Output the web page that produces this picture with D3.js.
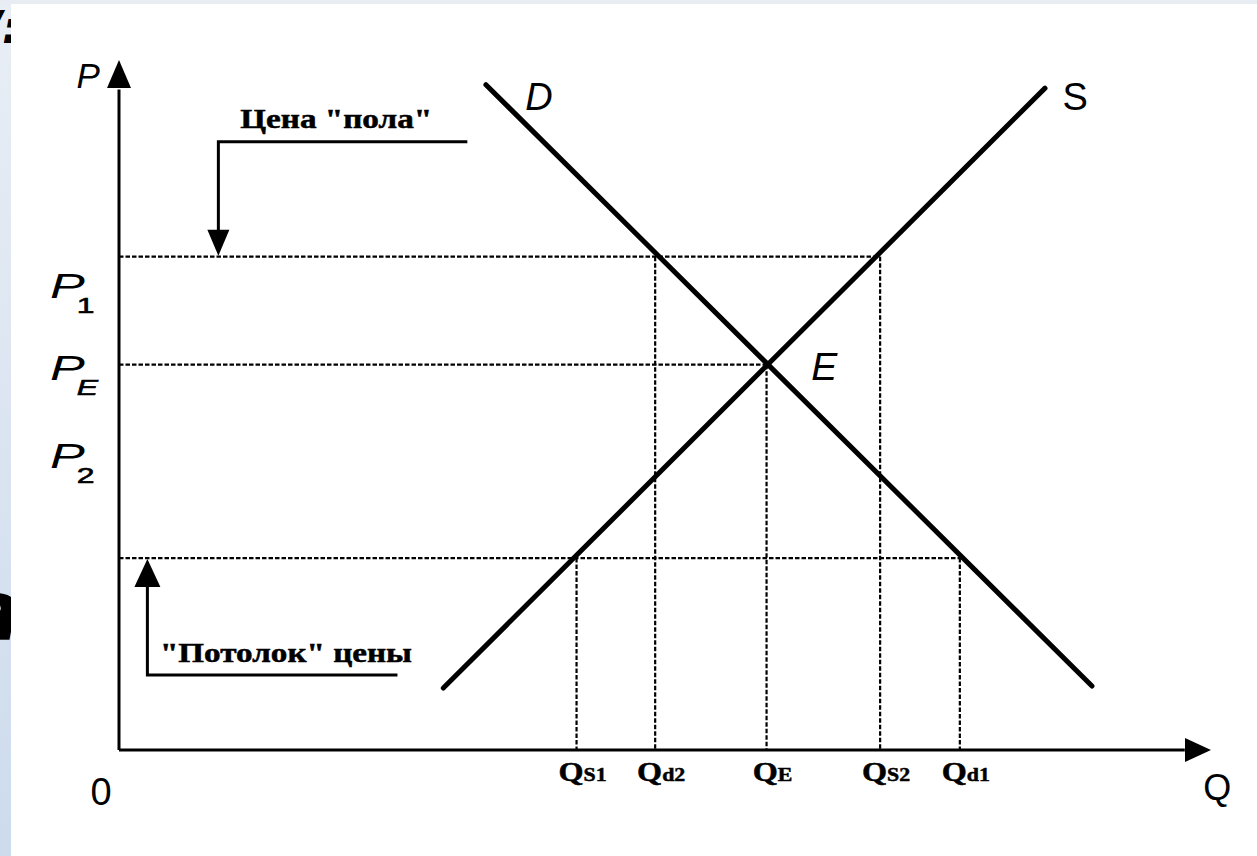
<!DOCTYPE html>
<html>
<head>
  <meta charset="utf-8">
  <script src="https://d3js.org/d3.v7.min.js"></script>
  <style>
    body { margin: 0; background: #fff; }
    svg { display: block; }
    .sans { font-family: "Liberation Sans", Arial, sans-serif; }
    .serif { font-family: "Liberation Serif", "Times New Roman", serif; font-weight: bold; stroke: #000; stroke-width: 0.5; }
  </style>
</head>
<body>
  <svg width="1257" height="856"></svg>
  <script>
    // price levels: floor (P1), equilibrium (PE), ceiling
    var pLevels = [71.7, 56.0, 27.9];
    var pLevelEnds = [69.7, 59.3, 77.0];

    // P tick labels (drawn at their own heights)
    var pSubs = ["1", "E", "2"];
    var pLabelValues = [65.7, 53.8, 41.0];

    // quantity marks on the Q axis
    var qSubs = ["S1", "d2", "E", "S2", "d1"];
    var qValues = [41.9, 49.1, 59.3, 69.7, 77.0];
    var qTops = [27.9, 71.7, 56.0, 71.7, 27.9];

    // demand and supply lines
    var demand = [[33.6, 96.7], [89.1, 9.3]];
    var supply = [[29.7, 9.0], [84.8, 96.2]];

    var W = 1257, H = 856;
    var svg = d3.select("svg");

    var x = d3.scaleLinear().domain([0, 100]).range([119, 1211]);
    var y = d3.scaleLinear().domain([0, 100]).range([750, 62]);

    // slide background behind the scanned picture
    var defs = svg.append("defs");
    var grad = defs.append("linearGradient").attr("id", "side")
      .attr("x1", 0).attr("y1", 0).attr("x2", 0).attr("y2", 1);
    grad.append("stop").attr("offset", "0%").attr("stop-color", "#e9eef5");
    grad.append("stop").attr("offset", "100%").attr("stop-color", "#cddbed");
    svg.append("rect").attr("width", W).attr("height", H).attr("fill", "url(#side)");
    svg.append("rect").attr("width", W).attr("height", 5).attr("fill", "#e8edf4");

    // bits of slide text peeking out on the left
    svg.append("text").attr("x", -36).attr("y", 640)
      .attr("font-family", "DejaVu Sans").attr("font-weight", "bold").attr("font-style", "italic")
      .attr("font-size", 84).attr("fill", "#000").text("а");
    svg.append("text").attr("x", -14).attr("y", 43)
      .attr("font-family", "DejaVu Sans").attr("font-weight", "bold").attr("font-style", "italic")
      .attr("font-size", 44).attr("fill", "#000").text("/:");

    svg.append("rect").attr("x", 11).attr("y", 4).attr("width", W - 11).attr("height", H - 4)
      .attr("fill", "#fff");

    var g = svg.append("g");

    // dashed guides
    var dash = "4.5,2";
    g.selectAll(".hguide").data(pLevels).enter().append("line")
      .attr("x1", x(0)).attr("x2", function(d, i) { return x(pLevelEnds[i]); })
      .attr("y1", function(d) { return y(d); }).attr("y2", function(d) { return y(d); })
      .attr("stroke", "#000").attr("stroke-width", 2.2).attr("stroke-dasharray", dash);
    g.selectAll(".vguide").data(qValues).enter().append("line")
      .attr("x1", function(d) { return x(d); }).attr("x2", function(d) { return x(d); })
      .attr("y1", function(d, i) { return y(qTops[i]); }).attr("y2", y(0))
      .attr("stroke", "#000").attr("stroke-width", 2.2).attr("stroke-dasharray", dash);

    // axes with arrow heads
    g.append("line").attr("x1", x(0)).attr("y1", y(0)).attr("x2", x(0)).attr("y2", y(96))
      .attr("stroke", "#000").attr("stroke-width", 3);
    g.append("line").attr("x1", x(0)).attr("y1", y(0)).attr("x2", x(97.6)).attr("y2", y(0))
      .attr("stroke", "#000").attr("stroke-width", 3);
    g.append("path")
      .attr("d", "M" + x(0) + "," + (y(100) - 2) + "L" + (x(0) - 12) + "," + (y(100) + 26) +
        "L" + (x(0) + 12) + "," + (y(100) + 26) + "Z").attr("fill", "#000");
    g.append("path")
      .attr("d", "M" + x(100) + "," + y(0) + "L" + (x(100) - 26) + "," + (y(0) - 12) +
        "L" + (x(100) - 26) + "," + (y(0) + 12) + "Z").attr("fill", "#000");

    // demand & supply
    var line = d3.line().x(function(d) { return x(d[0]); }).y(function(d) { return y(d[1]); });
    [demand, supply].forEach(function(s) {
      g.append("path").attr("d", line(s)).attr("fill", "none")
        .attr("stroke", "#000").attr("stroke-width", 5).attr("stroke-linecap", "round");
    });

    // letters
    g.append("text").attr("class", "sans").attr("x", x(-3.9)).attr("y", y(96.2))
      .attr("font-size", 35).attr("font-style", "italic").text("P");
    g.append("text").attr("class", "sans").attr("x", x(37.2)).attr("y", y(93.0))
      .attr("font-size", 38).attr("font-style", "italic").text("D");
    g.append("text").attr("class", "sans").attr("x", x(86.4)).attr("y", y(93.0))
      .attr("font-size", 38).text("S");
    g.append("text").attr("class", "sans").attr("x", x(63.4)).attr("y", y(53.8))
      .attr("font-size", 39).attr("font-style", "italic").text("E");
    g.append("text").attr("class", "sans").attr("x", x(-2.6)).attr("y", y(-8.0))
      .attr("font-size", 38).text("0");
    g.append("text").attr("class", "sans").attr("x", x(99.3)).attr("y", y(-7.2))
      .attr("font-size", 36).text("Q");

    // P1, PE, P2 (the scan is stretched sideways)
    var pl = g.selectAll(".plab").data(pLabelValues).enter().append("g")
      .attr("transform", function(d) { return "translate(" + (x(0) - 69) + "," + y(d) + ") scale(1.45,1)"; });
    pl.append("text").attr("class", "sans").attr("font-size", 36).attr("font-style", "italic").text("P");
    pl.append("text").attr("class", "sans").attr("x", 18.5).attr("y", 15)
      .attr("font-size", 22).attr("stroke", "#000").attr("stroke-width", 0.6)
      .attr("font-style", function(d, i) { return pSubs[i] === "E" ? "italic" : "normal"; })
      .text(function(d, i) { return pSubs[i]; });

    // Q labels under the axis
    var ql = g.selectAll(".qlab").data(qValues).enter().append("text")
      .attr("class", "serif").attr("text-anchor", "middle")
      .attr("transform", function(d) { return "translate(" + (x(d) + 6) + "," + (y(0) + 31) + ") scale(1.15,1)"; });
    ql.append("tspan").attr("font-size", 28).text("Q");
    ql.append("tspan").attr("font-size", 19).text(function(d, i) { return qSubs[i]; });

    // price floor callout
    var fx = 9.1, fy = 88.4;
    g.append("path")
      .attr("d", "M" + x(31.9) + "," + y(fy) + "H" + x(fx) + "V" + (y(pLevels[0]) - 24))
      .attr("fill", "none").attr("stroke", "#000").attr("stroke-width", 3);
    g.append("path")
      .attr("d", "M" + x(fx) + "," + (y(pLevels[0]) - 1) + "L" + (x(fx) - 11) + "," + (y(pLevels[0]) - 27) +
        "L" + (x(fx) + 11) + "," + (y(pLevels[0]) - 27) + "Z").attr("fill", "#000");
    g.append("text").attr("class", "serif").attr("x", x(11.1)).attr("y", y(90.4))
      .attr("font-size", 27).attr("textLength", 192).attr("lengthAdjust", "spacingAndGlyphs")
      .text("Цена \"пола\"");

    // price ceiling callout
    var cx = 2.6, cy = 10.9;
    g.append("path")
      .attr("d", "M" + x(25.5) + "," + y(cy) + "H" + x(cx) + "V" + (y(pLevels[2]) + 26))
      .attr("fill", "none").attr("stroke", "#000").attr("stroke-width", 3);
    g.append("path")
      .attr("d", "M" + x(cx) + "," + (y(pLevels[2]) + 1) + "L" + (x(cx) - 13) + "," + (y(pLevels[2]) + 29) +
        "L" + (x(cx) + 13) + "," + (y(pLevels[2]) + 29) + "Z").attr("fill", "#000");
    g.append("text").attr("class", "serif").attr("x", x(3.75)).attr("y", y(12.8))
      .attr("font-size", 27).attr("textLength", 252).attr("lengthAdjust", "spacingAndGlyphs")
      .text("\"Потолок\" цены");
  </script>
</body>
</html>
